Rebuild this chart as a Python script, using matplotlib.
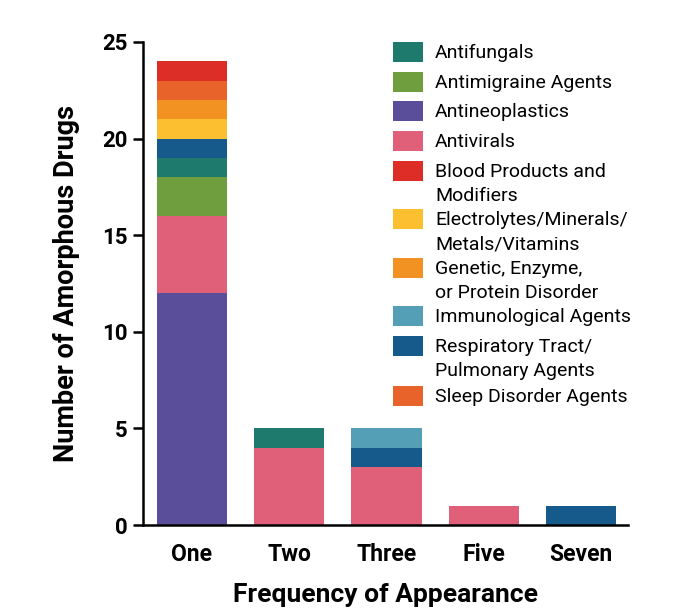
import matplotlib
matplotlib.use('Agg')
import matplotlib.pyplot as plt
from matplotlib.patches import Rectangle

plt.rcParams['font.family'] = ['Roboto', 'DejaVu Sans']

frequencies = ['One', 'Two', 'Three', 'Five', 'Seven']

# stacked bottom to top
antineoplastics = [12, 0, 0, 0, 0]
antivirals = [4, 4, 3, 1, 0]
antimigraine = [2, 0, 0, 0, 0]
antifungals = [1, 1, 0, 0, 0]
respiratory = [1, 0, 1, 0, 1]
immunological = [0, 0, 1, 0, 0]
electrolytes = [1, 0, 0, 0, 0]
genetic = [1, 0, 0, 0, 0]
sleep = [1, 0, 0, 0, 0]
blood = [1, 0, 0, 0, 0]

stack = [
    (antineoplastics, '#5a4e9a'),
    (antivirals, '#e0607a'),
    (antimigraine, '#6f9e3f'),
    (antifungals, '#1f7a6e'),
    (respiratory, '#155a8a'),
    (immunological, '#549fb6'),
    (electrolytes, '#fbbf2f'),
    (genetic, '#f29222'),
    (sleep, '#e8632a'),
    (blood, '#dc2e26'),
]

legend_labels = ['Antifungals', 'Antimigraine Agents', 'Antineoplastics', 'Antivirals',
                 'Blood Products and\nModifiers', 'Electrolytes/Minerals/\nMetals/Vitamins',
                 'Genetic, Enzyme,\nor Protein Disorder', 'Immunological Agents',
                 'Respiratory Tract/\nPulmonary Agents', 'Sleep Disorder Agents']
legend_colors = ['#1f7a6e', '#6f9e3f', '#5a4e9a', '#e0607a', '#dc2e26',
                 '#fbbf2f', '#f29222', '#549fb6', '#155a8a', '#e8632a']

W, H = 679, 609
fig = plt.figure(figsize=(W / 100, H / 100), dpi=100)
ax = fig.add_axes([143 / W, 1 - 525 / H, (628 - 143) / W, (525 - 42) / H])

x = range(len(frequencies))
bottom = [0] * len(frequencies)
for vals, col in stack:
    ax.bar(x, vals, bottom=bottom, width=0.72, color=col, edgecolor='none', zorder=2)
    bottom = [b + v for b, v in zip(bottom, vals)]

ax.set_xlim(-0.5, 4.48)
ax.set_ylim(0, 25)
ax.set_yticks([0, 5, 10, 15, 20, 25])
ax.set_xticks(list(x))
ax.set_xticklabels(frequencies)
for s in ['top', 'right']:
    ax.spines[s].set_visible(False)
for s in ['left', 'bottom']:
    ax.spines[s].set_linewidth(1.8)
ax.tick_params(axis='y', length=7, width=1.8, labelsize=16, pad=4)
ax.tick_params(axis='x', length=0, labelsize=16.5, pad=13)
for lab in ax.get_xticklabels() + ax.get_yticklabels():
    lab.set_fontweight('bold')
ax.set_xlabel('Frequency of Appearance', fontsize=19, fontweight='bold', labelpad=12)
ax.set_ylabel('Number of Amorphous Drugs', fontsize=19.5, fontweight='bold', labelpad=16)

# legend drawn by hand so swatches line up with the first text line
tops = [42, 72, 101, 131, 161, 209, 258, 306, 336, 386]
for lab, col, t in zip(legend_labels, legend_colors, tops):
    fig.add_artist(Rectangle((393 / W, 1 - (t + 20) / H), 30 / W, 20 / H,
                             transform=fig.transFigure, facecolor=col, edgecolor='none'))
    for i, line in enumerate(lab.split('\n')):
        fig.text(435 / W, 1 - (t + 16 + 24 * i) / H, line, fontsize=14,
                 va='baseline', ha='left')

fig.savefig('out.png', dpi=100)
